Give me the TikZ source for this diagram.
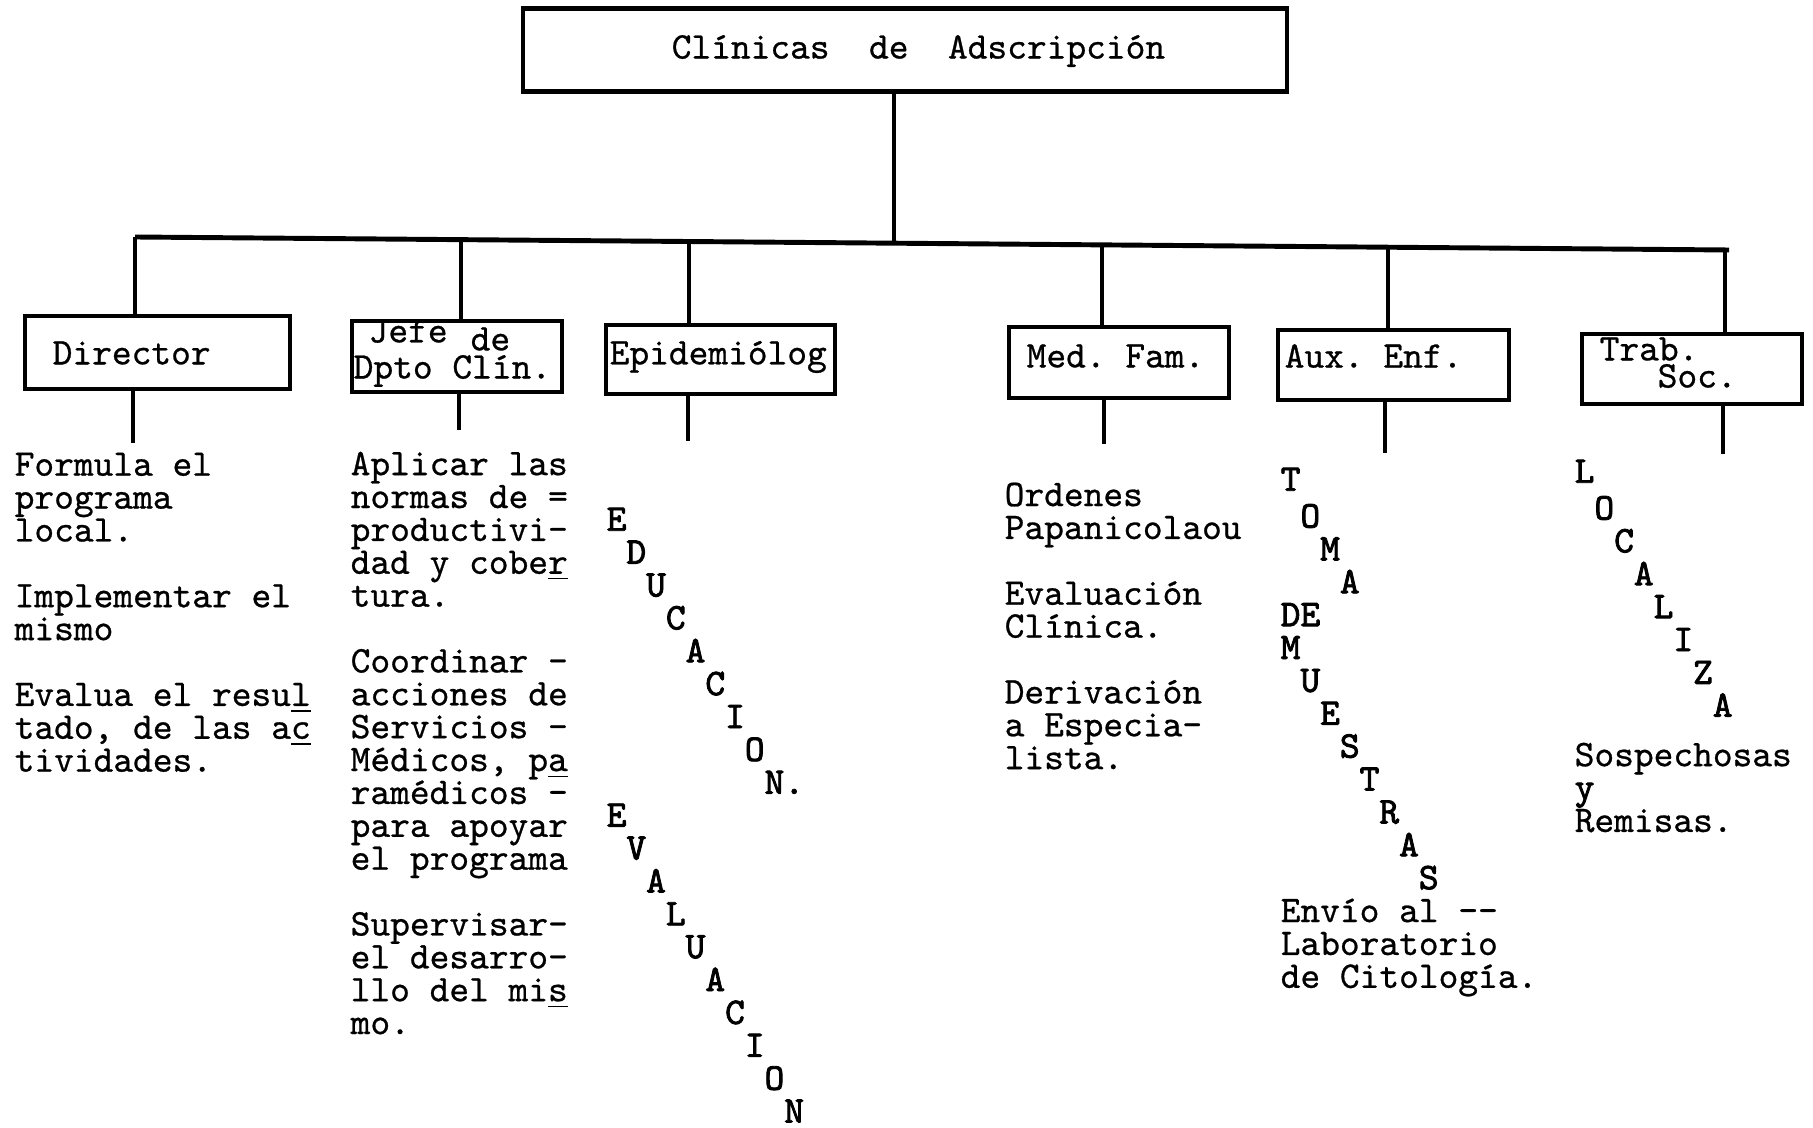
\documentclass[tikz,border=0pt]{standalone}
\usepackage{fontspec}
\usetikzlibrary{calc}
\newfontfamily\typew{Latin Modern Mono}[FakeBold=0.7]
\newfontfamily\typewb{Latin Modern Mono}[FakeBold=2.2]
\newlength\chw
\setlength\chw{5.612pt}
\newcommand\ind[1]{\hspace*{#1\chw}}
\newcommand\bl[1]{{\typewb #1}}
\frenchspacing
\begin{document}
\frenchspacing
\begin{tikzpicture}[x=0.01cm,y=-0.01cm,
  tw/.style={font=\typew\fontsize{10.69}{9.35}\selectfont\frenchspacing, inner sep=0pt},
  lbl/.style={tw, anchor=west},
  col/.style={tw, anchor=north west, align=left},
  box/.style={draw, line width=1.2pt, inner sep=0pt},
  wire/.style={line width=0.9pt},
  barline/.style={line width=1.4pt}]

\useasboundingbox[fill=white] (0,0) rectangle (1813,1128);

% top box
\node[box, minimum width=7.64cm, minimum height=0.83cm] (top) at (905,50) {};
\node[lbl] (topT) at (671,51) {Clínicas~~de~~Adscripción};

% bar
\coordinate (barL) at (135,237);
\coordinate (barR) at (1729,250);
\coordinate (b1) at (barL);
\coordinate (b2) at ($(barL)!0.2045!(barR)$);
\coordinate (b3) at ($(barL)!0.3476!(barR)$);
\coordinate (b0) at ($(barL)!0.4762!(barR)$);
\coordinate (b4) at ($(barL)!0.6066!(barR)$);
\coordinate (b5) at ($(barL)!0.7861!(barR)$);
\coordinate (b6) at ($(barL)!0.9975!(barR)$);
\draw[barline] (barL) -- (barR);
\draw[wire] (top.south -| b0) -- (b0);

% boxes
\node[box, minimum width=2.65cm, minimum height=0.73cm] (dir) at (157.5,352.5) {};
\node[box, minimum width=2.10cm, minimum height=0.71cm] (jefe) at (457,356.5) {};
\node[box, minimum width=2.29cm, minimum height=0.69cm] (epi) at (720.5,359.5) {};
\node[box, minimum width=2.20cm, minimum height=0.71cm] (med) at (1119,362.5) {};
\node[box, minimum width=2.31cm, minimum height=0.70cm] (aux) at (1393.5,365) {};
\node[box, minimum width=2.20cm, minimum height=0.70cm] (trab) at (1692,369) {};

% box labels
\node[lbl] (dirT) at (52,353) {Director};
\node[lbl] (jefeT1) at (368,331) {Jefe};
\node[lbl] (jefeT2) at (470,339) {de};
\node[lbl] (jefeT3) at (353,371) {Dpto Clín.};
\node[lbl] (epiT) at (609,357) {Epidemiólog};
\node[lbl] (medT) at (1026,356) {Med. Fam.};
\node[lbl] (auxT) at (1284,356) {Aux. Enf.};
\node[lbl] (trabT1) at (1599,349) {Trab.};
\node[lbl] (trabT2) at (1657,376) {Soc.};

% connectors bar -> boxes
\draw[wire] (b1) -- (dir.north -| b1);
\draw[wire] (b2) -- (jefe.north -| b2);
\draw[wire] (b3) -- (epi.north -| b3);
\draw[wire] (b4) -- (med.north -| b4);
\draw[wire] (b5) -- (aux.north -| b5);
\draw[wire] (b6) -- (trab.north -| b6);

% drops below boxes
\coordinate (e1) at (133,443);
\coordinate (e2) at (459,430);
\coordinate (e3) at (688,441);
\coordinate (e4) at (1104,444);
\coordinate (e5) at (1385,453);
\coordinate (e6) at (1723,454);
\draw[wire] (dir.south -| e1) -- (e1);
\draw[wire] (jefe.south -| e2) -- (e2);
\draw[wire] (epi.south -| e3) -- (e3);
\draw[wire] (med.south -| e4) -- (e4);
\draw[wire] (aux.south -| e5) -- (e5);
\draw[wire] (trab.south -| e6) -- (e6);

% column texts
\node[col] (dirC) at (14,452) {\strut Formula el\\programa\\local.\\[9.35pt]Implementar el\\mismo\\[9.35pt]Evalua el resu\underline{l}\\tado, de las a\underline{c}\\tividades.};

\node[col] (jefeC) at (350,451) {\strut Aplicar las\\normas de =\\productivi-\\dad y cobe\underline{r}\\tura.\\[9.35pt]Coordinar -\\acciones de\\Servicios -\\Médicos, p\underline{a}\\ramédicos -\\para apoyar\\el programa\\[9.35pt]Supervisar-\\el desarro-\\llo del mi\underline{s}\\mo.};

\node[col, font=\typewb\fontsize{10.69}{9.35}\selectfont] (epiC) at (606,507) {\strut E\\\ind1D\\\ind2U\\\ind3C\\\ind4A\\\ind5C\\\ind6I\\\ind7O\\\ind8N.\\E\\\ind1V\\\ind2A\\\ind3L\\\ind4U\\\ind5A\\\ind6C\\\ind7I\\\ind8O\\\ind9N};

\node[col] (medC) at (1004,482) {\strut Ordenes\\Papanicolaou\\[9.35pt]Evaluación\\Clínica.\\[9.35pt]Derivación\\a Especia-\\lista.};

\node[col] (auxC) at (1280,467) {\strut\bl{T}\\\ind1\bl{O}\\\ind2\bl{M}\\\ind3\bl{A}\\\bl{DE}\\\bl{M}\\\ind1\bl{U}\\\ind2\bl{E}\\\ind3\bl{S}\\\ind4\bl{T}\\\ind5\bl{R}\\\ind6\bl{A}\\\ind7\bl{S}\\Envío al -{}-\\Laboratorio\\de Citología.};

\node[col] (trabC) at (1574,459) {\strut\bl{L}\\\ind1\bl{O}\\\ind2\bl{C}\\\ind3\bl{A}\\\ind4\bl{L}\\\ind5\bl{I}\\\ind6\bl{Z}\\\ind7\bl{A}\\[4.7pt]Sospechosas\\\bl{y}\\Remisas.};

\end{tikzpicture}
\end{document}
